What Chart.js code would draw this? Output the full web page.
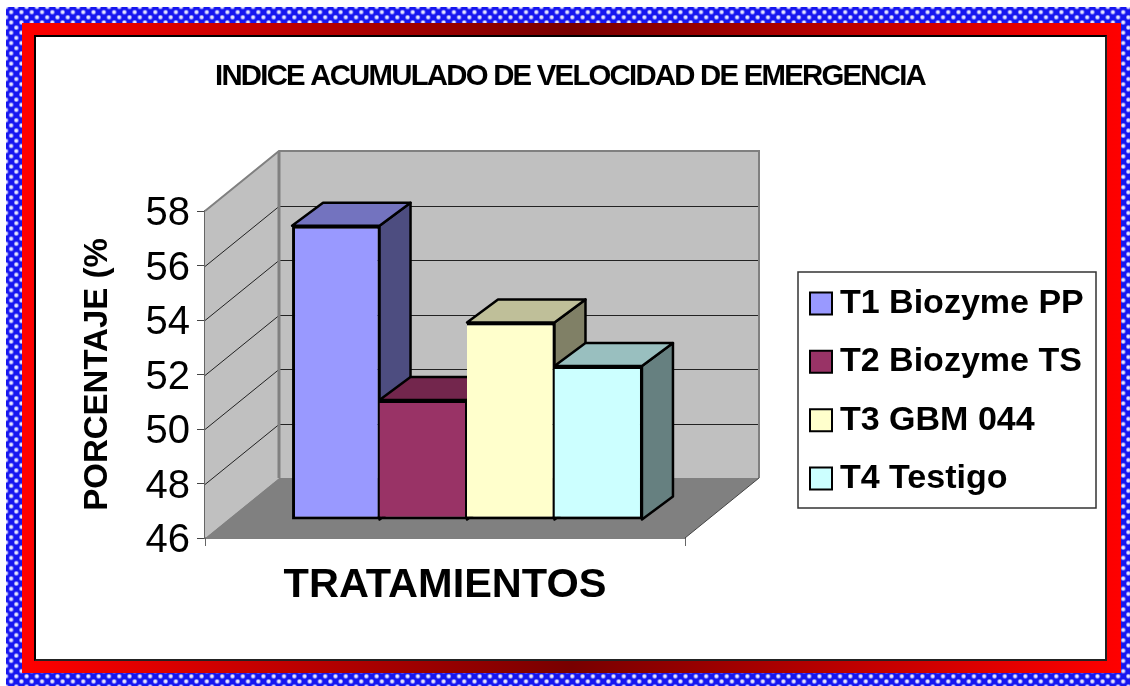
<!DOCTYPE html>
<html>
<head>
<meta charset="utf-8">
<script src="https://cdn.jsdelivr.net/npm/chart.js@4"></script>
<style>
  html, body { margin: 0; padding: 0; background: #fff; width: 1130px; height: 686px; overflow: hidden; }
  .dots, .red, .paper, canvas { position: absolute; }
  .dots {
    left: 6px; top: 7px; width: 1124px; height: 679px;
    background-color: #1616f0;
    background-image:
      radial-gradient(circle, #e6e6ff 0, #e6e6ff 1.2px, transparent 2.8px),
      radial-gradient(circle, #e6e6ff 0, #e6e6ff 1.2px, transparent 2.8px);
    background-size: 10.3px 10.3px;
    background-position: 0 0, 5.15px 5.15px;
  }
  .red {
    left: 22px; top: 23px; width: 1099px; height: 650px;
    background: linear-gradient(90deg, #ff0000 0%, #780000 50%, #ff0000 100%);
  }
  .paper {
    left: 34px; top: 35px; width: 1069px; height: 622px;
    background: #fff;
    border-style: solid; border-width: 2px; border-color: #000 #222 #222 #000;
  }
  canvas { left: 0; top: 0; }
</style>
</head>
<body>
<div class="dots"></div>
<div class="red"></div>
<div class="paper"></div>
<canvas id="chart" width="1130" height="686"></canvas>
<script>
const categories = ['']
const seriesNames = ['T1 Biozyme PP', 'T2 Biozyme TS', 'T3 GBM 044', 'T4 Testigo']
const seriesValues = [56.8, 50.4, 53.25, 51.65]
const yTicks = [46, 48, 50, 52, 54, 56, 58]

const frontColors = ['#9999FF', '#993366', '#FFFFCC', '#CCFFFF']
const topColors = ['#7373BF', '#73264D', '#BFBF99', '#99BFBF']
const sideColors = ['#4D4D80', '#4D1A33', '#808066', '#668080']

const FONT = '"Liberation Sans", Arial, sans-serif'
const wallDepth = { x: 74, y: -60 }
const barShift = { x: 22, y: -18 }
const barDepth = { x: 31, y: -23 }

const polygon = (ctx, pts, fill, stroke, width) => {
  ctx.beginPath()
  pts.forEach((p, i) => (i ? ctx.lineTo(p[0], p[1]) : ctx.moveTo(p[0], p[1])))
  ctx.closePath()
  ctx.fillStyle = fill
  ctx.fill()
  if (stroke) {
    ctx.strokeStyle = stroke
    ctx.lineWidth = width
    ctx.lineJoin = 'round'
    ctx.stroke()
  }
}

const drawWalls = (chart) => {
  const { ctx, chartArea: a, scales } = chart
  const dx = wallDepth.x
  const dy = wallDepth.y
  ctx.save()
  polygon(ctx, [[a.left, a.bottom], [a.left, a.top], [a.left + dx, a.top + dy], [a.left + dx, a.bottom + dy]], '#C0C0C0')
  polygon(ctx, [[a.left + dx, a.top + dy], [a.right + dx, a.top + dy], [a.right + dx, a.bottom + dy], [a.left + dx, a.bottom + dy]], '#C0C0C0')
  polygon(ctx, [[a.left, a.bottom], [a.right, a.bottom], [a.right + dx, a.bottom + dy], [a.left + dx, a.bottom + dy]], '#808080')

  ctx.strokeStyle = '#222'
  ctx.lineWidth = 1
  yTicks.slice(1, -1).forEach((t) => {
    const y = Math.round(scales.y.getPixelForValue(t)) + 0.5
    ctx.beginPath()
    ctx.moveTo(a.left, y)
    ctx.lineTo(a.left + dx, y + dy)
    ctx.lineTo(a.right + dx, y + dy)
    ctx.stroke()
  })

  ctx.strokeStyle = '#808080'
  ctx.lineWidth = 2
  ctx.beginPath()
  ctx.moveTo(a.left, a.top)
  ctx.lineTo(a.left + dx, a.top + dy)
  ctx.lineTo(a.right + dx, a.top + dy)
  ctx.lineTo(a.right + dx, a.bottom + dy)
  ctx.stroke()
  ctx.lineWidth = 3
  ctx.beginPath()
  ctx.moveTo(a.left + dx, a.top + dy)
  ctx.lineTo(a.left + dx, a.bottom + dy)
  ctx.stroke()

  ctx.strokeStyle = '#444'
  ctx.lineWidth = 1
  ctx.beginPath()
  ctx.moveTo(a.right, a.bottom)
  ctx.lineTo(a.right + dx, a.bottom + dy)
  ctx.stroke()
  ctx.restore()
}

const drawBarSides = (ctx, meta) => {
  const i = meta.index
  meta.data.forEach((bar) => {
    const { x, y, base, width } = bar.getProps(['x', 'y', 'base', 'width'], true)
    const l = x - width / 2
    const r = x + width / 2
    const dx = barDepth.x
    const dy = barDepth.y
    polygon(ctx, [[r, y], [r + dx, y + dy], [r + dx, base + dy], [r, base]], sideColors[i], '#000', 2.5)
    polygon(ctx, [[l, y], [l + dx, y + dy], [r + dx, y + dy], [r, y]], topColors[i], '#000', 2.5)
  })
}

// walls, floor, legend frame and the bar sides, none of which Chart.js has in 2d
const box3d = {
  id: 'box3d',
  afterLayout(chart) {
    // the legend sits beside the plot, outside the layout
    const legend = chart.legend
    legend.left = 794.6
    legend.right = 1096
    legend.top = 262
    legend.bottom = 600
    chart.titleBlock.left = 215
    chart.titleBlock.right = 925
  },
  beforeDraw(chart) {
    const ctx = chart.ctx
    const block = chart.titleBlock
    if (!block.squeezed) {
      const draw = block.draw
      block.draw = function (area) {
        ctx.save()
        ctx.letterSpacing = '-1.8px'
        draw.call(this, area)
        ctx.restore()
      }
      block.squeezed = true
    }
    ctx.save()
    ctx.strokeStyle = '#333'
    ctx.lineWidth = 1.5
    ctx.strokeRect(798, 272, 298, 236)
    ctx.restore()
  },
  beforeDatasetsDraw(chart) {
    const ctx = chart.ctx
    drawWalls(chart)
    // T1 first: Chart.js paints last dataset first, but each bar must cover the side of the one before
    chart.getSortedVisibleDatasetMetas().forEach((meta) => {
      ctx.save()
      ctx.translate(barShift.x, barShift.y)
      drawBarSides(ctx, meta)
      meta.controller.draw()
      ctx.restore()
    })
    return false
  },
}

new Chart(document.getElementById('chart'), {
  type: 'bar',
  plugins: [box3d],
  data: {
    labels: categories,
    datasets: seriesNames.map((name, i) => ({
      label: name,
      data: [seriesValues[i]],
      base: yTicks[0],
      backgroundColor: frontColors[i],
      borderColor: '#000',
      borderWidth: { top: 3, right: 2, bottom: 3, left: i === 0 ? 3 : 0 },
      borderSkipped: false,
      inflateAmount: 0,
    })),
  },
  options: {
    responsive: false,
    animation: false,
    layout: { padding: { left: 78, right: 445, top: 0, bottom: 75.2 } },
    categoryPercentage: 0.729,
    barPercentage: 1,
    plugins: {
      title: {
        display: true,
        text: 'INDICE ACUMULADO DE VELOCIDAD DE EMERGENCIA',
        color: '#000',
        font: { family: FONT, size: 30, weight: 'bold' },
        padding: { top: 59, bottom: 116 },
      },
      legend: {
        position: 'chartArea',
        align: 'start',
        labels: {
          color: '#000',
          font: { family: FONT, size: 34, weight: 'bold' },
          usePointStyle: true,
          pointStyle: 'rect',
          boxWidth: 4, // keeps the text close to the 22px swatch
          boxHeight: 22,
          padding: 24.4,
          generateLabels: (chart) =>
            Chart.defaults.plugins.legend.labels.generateLabels(chart).map((item) => ({ ...item, lineWidth: 2 })),
        },
      },
      tooltip: { enabled: false },
    },
    scales: {
      x: {
        grid: { drawOnChartArea: false, drawTicks: true, tickLength: 8, color: '#666' },
        border: { color: '#000', width: 1.5 },
        ticks: { display: false },
        title: {
          display: true,
          text: 'TRATAMIENTOS',
          color: '#000',
          font: { family: FONT, size: 41.5, weight: 'bold' },
          padding: { top: 15, bottom: 0 },
        },
      },
      y: {
        min: 46,
        max: 58,
        afterFit: (scale) => { scale.width = 127 },
        afterBuildTicks: (scale) => { scale.ticks = yTicks.map((value) => ({ value })) },
        grid: { drawOnChartArea: false, tickLength: 8, color: '#444' },
        border: { color: '#666', width: 1.5 },
        ticks: {
          color: '#000',
          font: { family: FONT, size: 40 },
          padding: 7,
          labelOffset: 3,
        },
        title: {
          display: true,
          text: 'PORCENTAJE (%',
          color: '#000',
          font: { family: FONT, size: 33, weight: 'bold' },
          padding: 0,
        },
      },
    },
  },
})
</script>
</body>
</html>
